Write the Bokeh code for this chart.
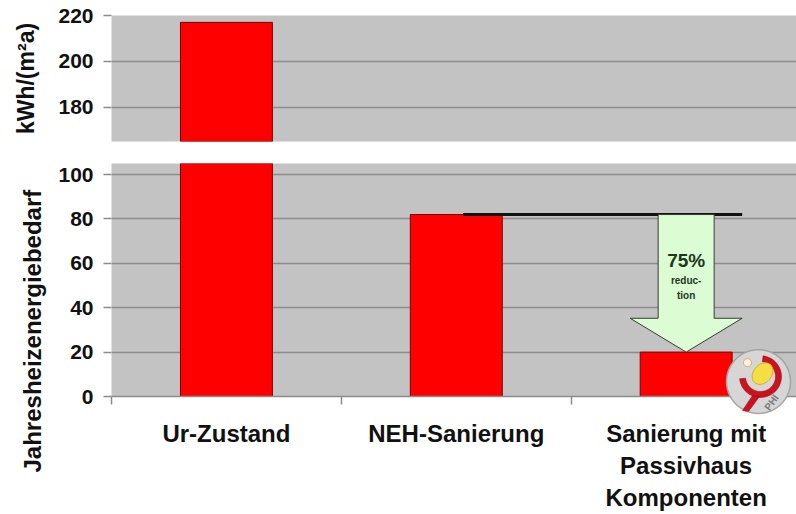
import numpy as np
from bokeh.plotting import figure
from bokeh.layouts import column
from bokeh.models import Range1d, FixedTicker, Title, ColumnDataSource
from bokeh.core.properties import value
from bokeh.embed import file_html
from bokeh.resources import INLINE

# ---- data -------------------------------------------------------------
categories = ["Ur-Zustand", "NEH-Sanierung", "Sanierung mit\nPassivhaus\nKomponenten"]
heating_demand = [217, 82, 20]          # kWh/(m²a)
upper_ticks = [180, 200, 220]
lower_ticks = [0, 20, 40, 60, 80, 100]
upper_title = "kWh/(m²a)"
lower_title = "Jahresheizenergiebedarf"
reduction_text = ["75%", "reduc-", "tion"]

# ---- layout ------------------------------------------------------------
W = 796
LEFT = 111
X_END = 2.98
UP_TOP, UP_FRAME, UP_BOTTOM = 15, 126, 11
LO_TOP, LO_FRAME, LO_BOTTOM = 11, 234, 117
UP_RANGE = (165, 220)
LO_RANGE = (0, 105)

PX_X = (W - LEFT) / X_END
PX_Y_LO = LO_FRAME / (LO_RANGE[1] - LO_RANGE[0])

FONT = "Liberation Sans"
GRID = "#8c8c8c"
BG = "#c3c3c3"
BAR = "#ff0000"
BAR_EDGE = "#7a0000"
TXT = "#111111"

x_pos = [i + 0.5 for i in range(len(heating_demand))]
x_range = Range1d(0, X_END)


def base_fig(height, y_range, top, bottom, ticks, **kw):
    p = figure(width=W, height=height, x_range=x_range, y_range=Range1d(*y_range),
               min_border_left=LEFT, min_border_right=0, min_border_top=top,
               min_border_bottom=bottom, toolbar_location=None, output_backend="svg",
               background_fill_color=BG, outline_line_color=None, **kw)
    p.xgrid.grid_line_color = None
    p.ygrid.ticker = FixedTicker(ticks=ticks)
    p.ygrid.grid_line_color = GRID
    p.ygrid.grid_line_width = 1.5
    ax = p.yaxis[0]
    ax.ticker = FixedTicker(ticks=ticks)
    ax.axis_line_color = None
    ax.major_tick_out = 8
    ax.major_tick_in = 0
    ax.major_tick_line_color = GRID
    ax.major_tick_line_width = 1.5
    ax.minor_tick_line_color = None
    ax.major_label_text_font = FONT
    ax.major_label_text_font_style = "bold"
    ax.major_label_text_font_size = "21px"
    ax.major_label_text_color = TXT
    ax.major_label_standoff = 10
    ax.axis_label_text_font = FONT
    ax.axis_label_text_font_style = "bold"
    ax.axis_label_text_font_size = "23px"
    ax.axis_label_text_color = TXT
    ax.axis_label_standoff = 16
    # only the bars that reach into this panel's value range
    keep = [i for i, v in enumerate(heating_demand) if v > y_range[0]]
    src = ColumnDataSource(dict(x=[x_pos[i] for i in keep],
                                top=[heating_demand[i] for i in keep]))
    p.vbar(x="x", top="top", bottom=y_range[0], width=0.4, source=src,
           fill_color=BAR, line_color=BAR_EDGE, line_width=1)
    return p


# upper panel (broken axis, high values)
p1 = base_fig(UP_TOP + UP_FRAME + UP_BOTTOM, UP_RANGE, UP_TOP, UP_BOTTOM, upper_ticks,
              x_axis_location=None)
p1.yaxis[0].axis_label = upper_title

# lower panel
p2 = base_fig(LO_TOP + LO_FRAME + LO_BOTTOM, LO_RANGE, LO_TOP, LO_BOTTOM, lower_ticks)
xa = p2.xaxis[0]
xa.ticker = FixedTicker(ticks=x_pos, minor_ticks=list(range(len(x_pos) + 1)))
xa.major_label_overrides = {x: c for x, c in zip(x_pos, categories)}
xa.axis_line_color = GRID
xa.axis_line_width = 1.5
xa.major_tick_line_color = None
xa.major_tick_out = 0
xa.major_tick_in = 0
xa.minor_tick_out = 8
xa.minor_tick_in = 0
xa.minor_tick_line_color = GRID
xa.minor_tick_line_width = 1.5
xa.major_label_text_font = FONT
xa.major_label_text_font_style = "bold"
xa.major_label_text_font_size = "24px"
xa.major_label_text_color = TXT
xa.major_label_text_line_height = 1.2
xa.major_label_standoff = 15

# long axis title, running upward from below the axis
p2.add_layout(Title(text=lower_title, align="left", offset=-76, vertical_align="top",
                    text_font=FONT, text_font_style="bold", text_font_size="24px",
                    text_color=TXT, standoff=16), "left")

# reference line at the NEH level and the reduction arrow
neh, ph = heating_demand[1], heating_demand[2]
cx = x_pos[2]
shaft = 28 / PX_X
head = 56 / PX_X
head_len = 34 / PX_Y_LO
p2.segment(x0=[x_pos[1] + 0.03], y0=[neh], x1=[cx + head], y1=[neh],
           line_color="#111111", line_width=3)
p2.patch(x=[cx - shaft, cx + shaft, cx + shaft, cx + head, cx, cx - head, cx - shaft],
         y=[neh, neh, ph + head_len, ph + head_len, ph, ph + head_len, ph + head_len],
         fill_color="#dcfdd4", line_color="#3a3a3a", line_width=1)
for txt, off, size in zip(reduction_text, [46, 66, 81], ["19px", "10px", "10px"]):
    p2.text(x=[cx], y=[neh - off / PX_Y_LO], text=[txt], text_font=value(FONT),
            text_font_style="bold", text_font_size=size, text_align="center",
            text_baseline="middle", text_color="#1c361c")

# PHI badge in the corner (drawn above the frame so it can overlap the axis)
LOGO_X = (758 - LEFT) / PX_X
LOGO_Y = 15 / PX_Y_LO


def to_data(dx, dy):
    return list(LOGO_X + np.asarray(dx) / PX_X), list(LOGO_Y - np.asarray(dy) / PX_Y_LO)


def badge_poly(dx, dy, **style):
    xs, ys = to_data(dx, dy)
    p2.patch(x=xs, y=ys, level="overlay", **style)


t = np.linspace(0, 2 * np.pi, 73)
badge_poly(32 * np.cos(t), 32 * np.sin(t), fill_color="#d6d6d6",
           line_color="#a4a4a4", line_width=1.5)

# red cup with stem
a = np.radians(np.linspace(174, -83, 40))
ox, oy = 2 + 21 * np.cos(a), -5 + 21 * np.sin(a)
ix, iy = 2 + 15 * np.cos(a[::-1]), -5 + 15 * np.sin(a[::-1])
badge_poly(np.concatenate([ox, ix]), np.concatenate([oy, iy]),
           fill_color="#c8141e", line_color="#a00010", line_width=0.5)
badge_poly([-6, 1, -10, -16], [14, 15, 30, 29],
           fill_color="#c8141e", line_color="#a00010", line_width=0.5)

# yellow drop
b = np.linspace(0, 2 * np.pi, 40)
ex = 4 + 9 * np.cos(b) * np.cos(0.7) - 12 * np.sin(b) * np.sin(0.7)
ey = -8 + 9 * np.cos(b) * np.sin(0.7) + 12 * np.sin(b) * np.cos(0.7)
badge_poly(ex, ey, fill_color="#f4de44", line_color="#d8a830", line_width=1)
badge_poly(-11 + 4 * np.cos(t), -19 + 4 * np.sin(t), fill_color="#fbf3dc",
           line_color="#d8a060", line_width=1)
lx, ly = to_data([13], [21])
p2.text(x=lx, y=ly, text=["PHI"], angle=np.radians(55), text_align="center",
        text_baseline="middle", text_font=value(FONT), text_font_style="bold",
        text_font_size="10px", text_color="#7a7a7a", level="overlay")

layout = column(p1, p2, spacing=0)
open("out.html", "w").write(file_html(layout, INLINE))
